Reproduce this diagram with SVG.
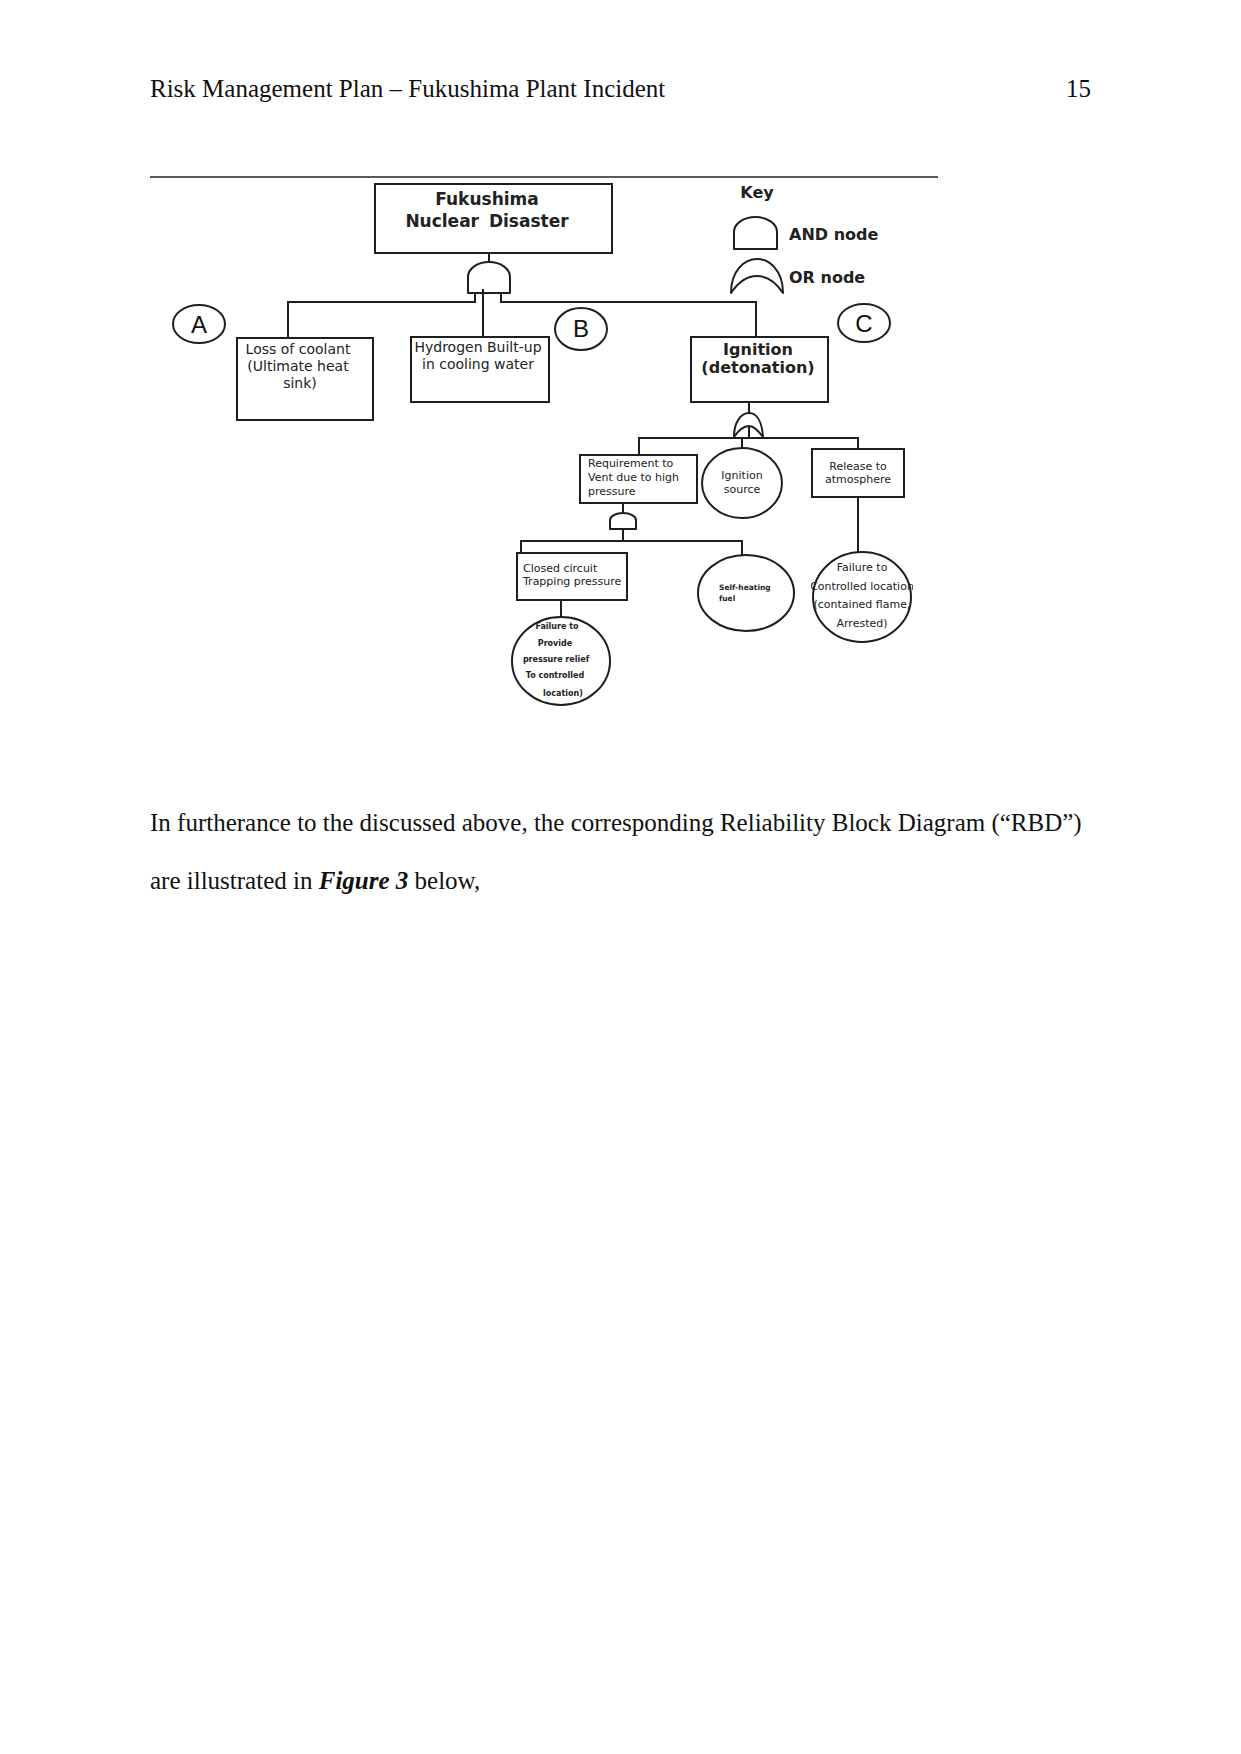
<svg xmlns="http://www.w3.org/2000/svg" width="1241" height="1754" viewBox="0 0 1241 1754">
<style>
.page{font-family:"Liberation Serif","Times New Roman",serif;font-size:25px;fill:#111}
.box{fill:#fff;stroke:#1e1e1e;stroke-width:2}
.gate{fill:#fff;stroke:#1e1e1e;stroke-width:2;stroke-linejoin:round}
.ln{fill:none;stroke:#1e1e1e;stroke-width:2}
.t{font-family:"DejaVu Sans","Verdana",sans-serif;fill:#222}
.b{font-weight:bold}
.c{text-anchor:middle}
.lbl{font-family:"Liberation Sans",Arial,sans-serif;font-size:24px;fill:#111;text-anchor:middle}
</style>
<defs>
<clipPath id="clipR"><rect x="811" y="550" width="102" height="95"/></clipPath>
<clipPath id="clipL"><rect x="510" y="615" width="102" height="92"/></clipPath>
</defs>
<rect width="1241" height="1754" fill="#fff"/>
<text class="page" x="150" y="97">Risk Management Plan – Fukushima Plant Incident</text>
<text class="page" x="1091" y="97" text-anchor="end">15</text>
<line x1="150" y1="177" x2="938" y2="177" stroke="#222" stroke-width="1.5"/>

<g id="connectors">
<line class="ln" x1="489" y1="253" x2="489" y2="262"/>
<polyline class="ln" points="475,293 475,302 288,302 288,338"/>
<line class="ln" x1="483" y1="289" x2="483" y2="337"/>
<polyline class="ln" points="501,293 501,302 756,302 756,337"/>
<line class="ln" x1="749" y1="402" x2="749" y2="413"/>
<line class="ln" x1="749" y1="426" x2="749" y2="438"/>
<polyline class="ln" points="639,455 639,438 858,438 858,449"/>
<line class="ln" x1="742" y1="438" x2="742" y2="448"/>
<line class="ln" x1="858" y1="497" x2="858" y2="553"/>
<line class="ln" x1="623" y1="503" x2="623" y2="513"/>
<polyline class="ln" points="521,553 521,541 742,541 742,555"/>
<line class="ln" x1="623" y1="529" x2="623" y2="541"/>
<line class="ln" x1="561" y1="600" x2="561" y2="617"/>
</g>

<g id="top-event">
<rect class="box" x="375" y="184" width="237" height="69"/>
<text class="t b c" x="487" y="205" font-size="17">Fukushima</text>
<text class="t b c" x="487" y="227" font-size="17" word-spacing="4">Nuclear Disaster</text>
</g>
<g id="and-top">
<path class="gate" d="M468,293 V277 A21,15 0 0 1 510,277 V293 Z"/>
<line class="ln" x1="483" y1="289" x2="483" y2="295"/>
</g>

<g id="key">
<text class="t b c" x="757" y="198" font-size="16">Key</text>
<path class="gate" d="M734,249 V232 A21.5,15 0 0 1 777,232 V249 Z"/>
<text class="t b" x="789" y="240" font-size="16">AND node</text>
<path class="gate" d="M731,293 C731,270 745,259 757,259 C769,259 783,270 783,293 C775,281 766,276 757,276 C748,276 739,281 731,293 Z"/>
<text class="t b" x="789" y="283" font-size="16">OR node</text>
</g>

<g id="label-A"><ellipse class="box" cx="199" cy="324" rx="26" ry="19" stroke-width="1.6"/><text class="lbl" x="199" y="333">A</text></g>
<g id="label-B"><ellipse class="box" cx="581" cy="329" rx="26" ry="21" stroke-width="1.6"/><text class="lbl" x="581" y="337">B</text></g>
<g id="label-C"><ellipse class="box" cx="864" cy="323" rx="26" ry="19" stroke-width="1.6"/><text class="lbl" x="864" y="332">C</text></g>

<g id="loss-of-coolant">
<rect class="box" x="237" y="338" width="136" height="82"/>
<text class="t c" font-size="14" x="298" y="354">Loss of coolant</text>
<text class="t c" font-size="14" x="298" y="371">(Ultimate heat</text>
<text class="t c" font-size="14" x="300" y="388">sink)</text>
</g>

<g id="hydrogen">
<rect class="box" x="411" y="337" width="138" height="65"/>
<text class="t c" font-size="14" x="478" y="352">Hydrogen Built-up</text>
<text class="t c" font-size="14" x="478" y="369">in cooling water</text>
</g>

<g id="ignition">
<rect class="box" x="691" y="337" width="137" height="65"/>
<text class="t b c" font-size="16" x="758" y="355">Ignition</text>
<text class="t b c" font-size="16" x="758" y="373">(detonation)</text>
</g>
<g id="or-ignition">
<path class="gate" d="M734,437 C734,422 741,413 749,413 C757,413 762,422 763,437 C758,431 754,426 749,426 C744,426 738,431 734,437 Z"/>
</g>

<g id="requirement">
<rect class="box" x="580" y="455" width="117" height="48"/>
<text class="t" font-size="11" x="588" y="467">Requirement to</text>
<text class="t" font-size="11" x="588" y="481">Vent due to high</text>
<text class="t" font-size="11" x="588" y="495">pressure</text>
</g>
<g id="and-requirement">
<path class="gate" d="M610,529 V520 A13,7 0 0 1 636,520 V529 Z"/>
</g>

<g id="ignition-source">
<ellipse class="box" cx="742" cy="483" rx="40" ry="35"/>
<text class="t c" font-size="11" x="742" y="479">Ignition</text>
<text class="t c" font-size="11" x="742" y="493">source</text>
</g>

<g id="release">
<rect class="box" x="812" y="449" width="92" height="48"/>
<text class="t c" font-size="11" x="858" y="470">Release to</text>
<text class="t c" font-size="11" x="858" y="483">atmosphere</text>
</g>

<g id="failure-controlled">
<ellipse class="box" cx="862" cy="597" rx="49" ry="45"/>
<g clip-path="url(#clipR)">
<text class="t c" font-size="11" x="862" y="571">Failure to</text>
<text class="t c" font-size="11" x="862" y="590">Controlled location</text>
<text class="t c" font-size="11" x="862" y="608">(contained flame,</text>
<text class="t c" font-size="11" x="862" y="627">Arrested)</text>
</g>
</g>

<g id="closed-circuit">
<rect class="box" x="517" y="553" width="110" height="47"/>
<text class="t" font-size="11" x="523" y="572">Closed circuit</text>
<text class="t" font-size="11" x="523" y="585">Trapping pressure</text>
</g>

<g id="self-heating">
<ellipse class="box" cx="746" cy="593" rx="48" ry="38"/>
<text class="t b" font-size="7.5" x="719" y="590">Self-heating</text>
<text class="t b" font-size="7.5" x="719" y="601">fuel</text>
</g>

<g id="failure-provide">
<ellipse class="box" cx="561" cy="661" rx="49" ry="44"/>
<g clip-path="url(#clipL)">
<text class="t b c" font-size="8" x="557" y="629">Failure to</text>
<text class="t b c" font-size="8" x="555" y="646">Provide</text>
<text class="t b c" font-size="8" x="556" y="662">pressure relief</text>
<text class="t b c" font-size="8" x="555" y="678">To controlled</text>
<text class="t b c" font-size="8" x="563" y="696">location)</text>
</g>
</g>

<text class="page" x="150" y="831">In furtherance to the discussed above, the corresponding Reliability Block Diagram (“RBD”)</text>
<text class="page" x="150" y="889">are illustrated in <tspan font-weight="bold" font-style="italic">Figure 3</tspan> below,</text>
</svg>
